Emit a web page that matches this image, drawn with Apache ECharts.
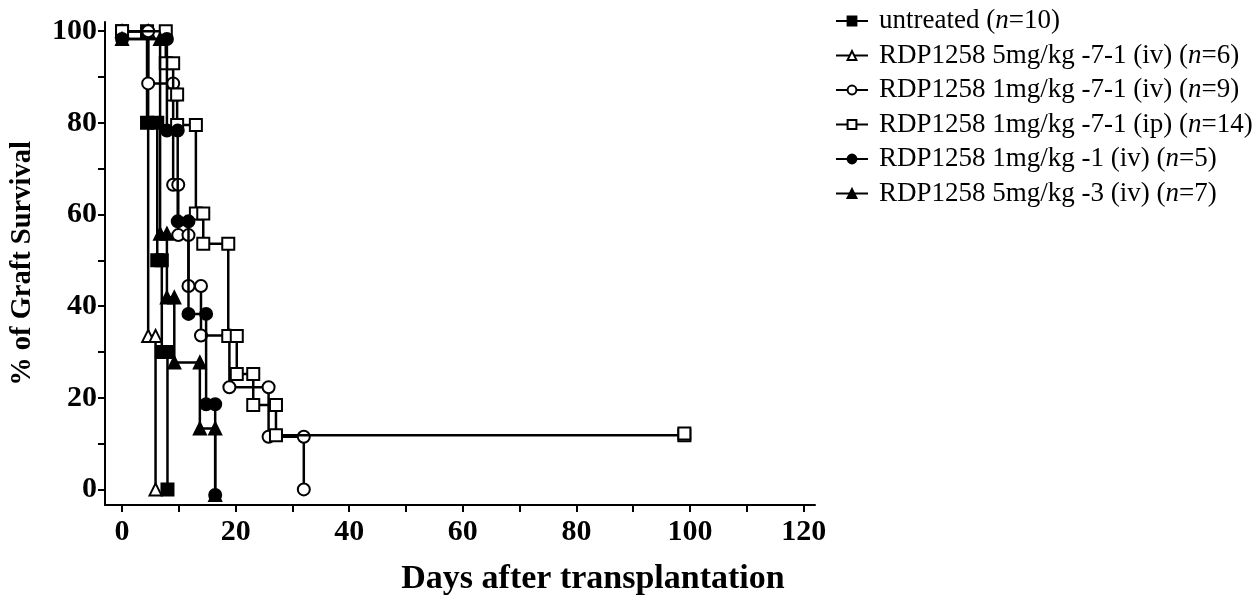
<!DOCTYPE html>
<html>
<head>
<meta charset="utf-8">
<script src="https://cdn.jsdelivr.net/npm/echarts@6/dist/echarts.min.js"></script>
<style>html,body{margin:0;padding:0;background:#fff;}#c{width:1260px;height:596px;}</style>
</head>
<body>
<div id="c"></div>
<script>
// ---- data ----
const seriesNames = [
  'untreated (n=10)',
  'RDP1258 5mg/kg -7-1 (iv) (n=6)',
  'RDP1258 1mg/kg -7-1 (iv) (n=9)',
  'RDP1258 1mg/kg -7-1 (ip) (n=14)',
  'RDP1258 1mg/kg -1 (iv) (n=5)',
  'RDP1258 5mg/kg -3 (iv) (n=7)'
];
// event days and survival (%) after each event
const untreatedDays = [0, 4.4, 6.2, 7.0, 8.0];
const untreatedSurv = [100, 80, 50, 30, 0];
const iv5Days = [0, 4.6, 5.9];
const iv5Surv = [100, 33.5, 0];
const iv1Days = [0, 4.6, 9.0, 9.9, 11.7, 13.9, 18.9, 25.8, 32.0];
const iv1Surv = [100, 88.6, 66.5, 55.5, 44.4, 33.6, 22.3, 11.5, 0];
const ip1Days = [0, 7.7, 9.0, 9.7, 13.0, 14.3, 18.7, 20.2, 23.1, 27.1, 99.0];
const ip1Surv = [100, 93.0, 86.2, 79.5, 60.2, 53.6, 33.5, 25.2, 18.4, 11.8, 12.2];
const d1Days = [0, 7.9, 9.8, 11.7, 14.8, 16.4];
const d1Surv = [98.3, 78.3, 58.5, 38.3, 18.6, -1.2];
const d3Days = [0, 6.7, 7.9, 9.2, 13.7, 16.4];
const d3Surv = [98.3, 55.8, 41.9, 27.7, 13.3, -1.2];

const xTickValues = [0, 10, 20, 30, 40, 50, 60, 70, 80, 90, 100, 110, 120];
const xLabelValues = [0, 20, 40, 60, 80, 100, 120];
const yTickValues = [0, 10, 20, 30, 40, 50, 60, 70, 80, 90, 100];
const yLabelValues = [0, 20, 40, 60, 80, 100];

// ---- build Kaplan-Meier step vertices ----
function steps(days, surv) {
  const pts = [[days[0], surv[0]]];
  for (let i = 1; i < days.length; i++) {
    pts.push([days[i], surv[i - 1]]);
    if (surv[i] !== surv[i - 1]) pts.push([days[i], surv[i]]);
  }
  return pts;
}

const styles = [
  {symbol: 'rect', fill: '#000'},
  {symbol: 'triangle', fill: '#fff'},
  {symbol: 'circle', fill: '#fff'},
  {symbol: 'rect', fill: '#fff'},
  {symbol: 'circle', fill: '#000'},
  {symbol: 'triangle', fill: '#000'}
];
const dataSets = [
  steps(untreatedDays, untreatedSurv),
  steps(iv5Days, iv5Surv),
  steps(iv1Days, iv1Surv),
  steps(ip1Days, ip1Surv),
  steps(d1Days, d1Surv),
  steps(d3Days, d3Surv)
];

const serif = 'Liberation Serif, Times New Roman, serif';

const series = seriesNames.map((name, i) => ({
  name: name,
  type: 'line',
  data: dataSets[i],
  symbol: styles[i].symbol,
  symbolSize: 12,
  showAllSymbol: true,
  lineStyle: {color: '#000', width: 2.5},
  itemStyle: {color: styles[i].fill, borderColor: '#000', borderWidth: 2},
  emphasis: {disabled: true},
  z: 2 + i
}));

function legendFmt(name) {
  const k = name.indexOf('(n=');
  return '{r|' + name.slice(0, k + 1) + '}{i|n}{r|' + name.slice(k + 2) + '}';
}

const chart = echarts.init(document.getElementById('c'), null, {renderer: 'canvas'});
chart.setOption({
  animation: false,
  backgroundColor: '#fff',
  grid: {left: 105, right: 445, top: 22, bottom: 91, outerBoundsMode: 'none', containLabel: false},
  legend: {
    orient: 'vertical',
    left: 830,
    top: 2,
    itemWidth: 32,
    itemHeight: 11,
    itemGap: 6.5,
    data: seriesNames,
    formatter: legendFmt,
    selectedMode: false,
    textStyle: {
      color: '#000', fontFamily: serif, fontSize: 27, lineHeight: 28, padding: [0, 0, 0, 6],
      rich: {
        r: {fontFamily: serif, fontSize: 27, color: '#000', lineHeight: 28},
        i: {fontFamily: serif, fontSize: 27, color: '#000', fontStyle: 'italic', lineHeight: 28}
      }
    }
  },
  xAxis: {
    type: 'value', min: -3, max: 122,
    name: 'Days after transplantation',
    nameLocation: 'middle', nameGap: 57, nameMoveOverlap: false,
    nameTextStyle: {color: '#000', fontFamily: serif, fontWeight: 'bold', fontSize: 34, padding: [0, 0, 0, 266]},
    axisLine: {show: true, onZero: false, lineStyle: {color: '#000', width: 2}},
    axisTick: {show: true, customValues: xTickValues, length: 7, lineStyle: {color: '#000', width: 2}},
    axisLabel: {show: true, customValues: xLabelValues, color: '#000', fontFamily: serif, fontWeight: 'bold', fontSize: 30, margin: 12},
    splitLine: {show: false}
  },
  yAxis: {
    type: 'value', min: -3.4, max: 102,
    name: '% of Graft Survival',
    nameLocation: 'middle', nameGap: 68, nameRotate: 90, nameMoveOverlap: false,
    nameTextStyle: {color: '#000', fontFamily: serif, fontWeight: 'bold', fontSize: 28.5},
    axisLine: {show: true, onZero: false, lineStyle: {color: '#000', width: 2}},
    axisTick: {show: true, customValues: yTickValues, length: 7, lineStyle: {color: '#000', width: 2}},
    axisLabel: {show: true, customValues: yLabelValues, color: '#000', fontFamily: serif, fontWeight: 'bold', fontSize: 30, margin: 8},
    splitLine: {show: false}
  },
  series: series
});
</script>
</body>
</html>
